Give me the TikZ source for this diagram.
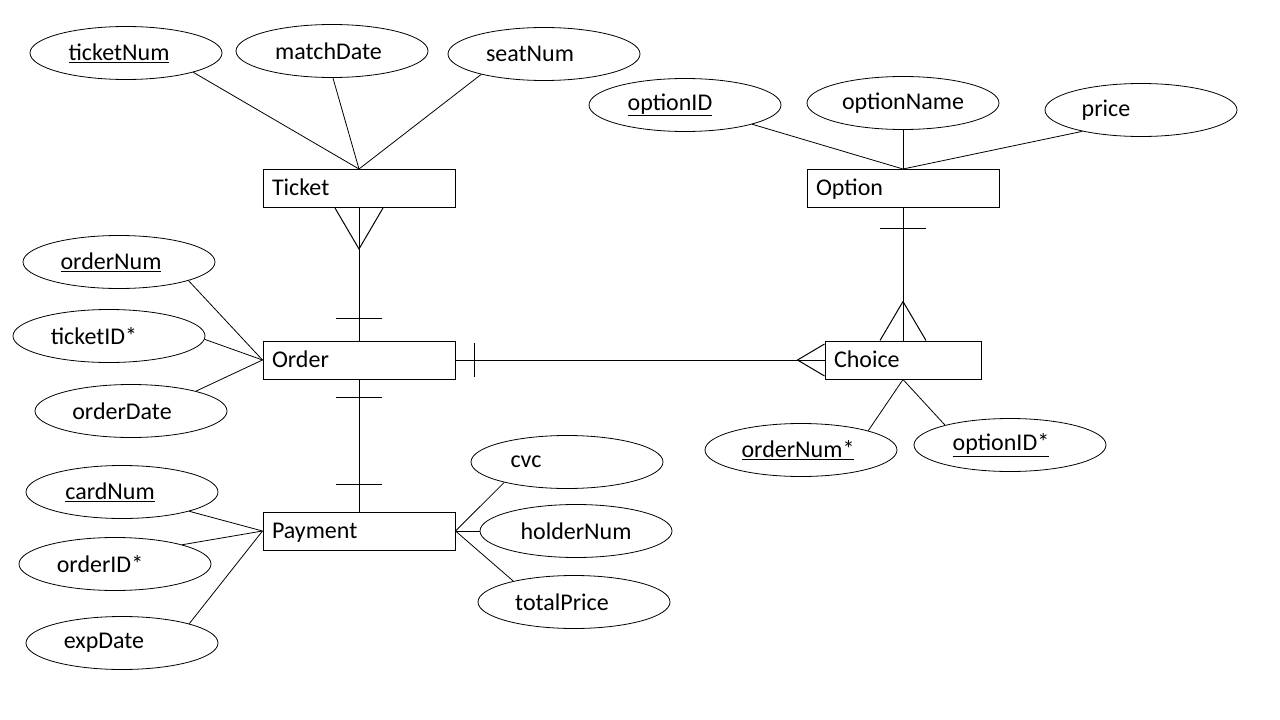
\documentclass[tikz,border=0pt]{standalone}
\usepackage{fontspec}
\setmainfont{Carlito}
\usetikzlibrary{shapes.geometric,calc}
\tikzset{
  entity/.style={draw, line width=1pt, rectangle, minimum height=38pt,
                 text width=174pt, text height=19pt, text depth=5pt,
                 inner xsep=9pt, inner ysep=0pt, align=left},
  attr/.style={draw, line width=0.8pt, ellipse, minimum width=192pt,
               minimum height=53pt, inner sep=0pt},
  link/.style={line width=0.8pt},
  rel/.style={line width=1pt},
}
% shift an attribute's text to the left inside its ellipse
\newcommand{\lft}[2]{#2\hspace*{#1pt}}

\begin{document}
\begin{tikzpicture}[x=1pt, y=-1pt, font=\fontsize{24}{28}\selectfont]
  \useasboundingbox (0,0) rectangle (1280,720);

  % entities
  \node[entity] (ticket)  at (359,188.5) {Ticket};
  \node[entity] (option)  at (903,188.5) {Option};
  \node[entity] (order)   at (359,360)   {Order};
  \node[entity, text width=138pt] (choice) at (903,360) {Choice};
  \node[entity] (payment) at (359,531)   {Payment};

  % attributes, each linked to its entity
  \foreach \nm/\x/\y/\ang/\ent/\txt in {
      tnum/126/53/-16/ticket.north/{\lft{14}{\underline{ticketNum}}},
      mdate/332/51/-88/ticket.north/{\lft{7}{matchDate}},
      seat/544/54/-162/ticket.north/{\lft{28}{seatNum}},
      oid/685/105/-16/option.north/{\lft{30}{\underline{optionID}}},
      oname/903/103/-90/option.north/{optionName},
      price/1141/110/-160/option.north/{\lft{70}{price}},
      onum/119/262/-15/order.west/{\lft{16}{\underline{orderNum}}},
      tid/109/336/-2/order.west/{\lft{30}{ticketID*}},
      odate/131/411/17/order.west/{\lft{18}{orderDate}},
      conum/801/450/16/choice.south/{\lft{6}{\underline{orderNum*}}},
      coid/1010/445/163/choice.south/{\lft{18}{\underline{optionID*}}},
      cvc/567/462/-162/payment.east/{\lft{82}{cvc}},
      hnum/576/531/180/payment.east/{holderNum},
      tprice/574/602/161/payment.east/{\lft{24}{totalPrice}},
      card/122/492/-16/payment.west/{\lft{24}{\underline{cardNum}}},
      ordid/115/564/16/payment.west/{\lft{30}{orderID*}},
      exp/122/643/16/payment.west/{\lft{36}{expDate}}}{
    \node[attr] (\nm) at (\x,\y) {\txt};
    \draw[link] (\nm.\ang) -- (\ent);
  }

  % Ticket -- Order
  \draw[rel] (ticket.south) -- (order.north);
  \draw[rel] ($(ticket.south)+(-24,0)$) -- ($(ticket.south)+(0,41)$)
             -- ($(ticket.south)+(24,0)$);
  \draw[rel] ($(order.north)+(-23,-22)$) -- ++(46,0);

  % Order -- Payment
  \draw[rel] (order.south) -- (payment.north);
  \draw[rel] ($(order.south)+(-23,18)$) -- ++(46,0);
  \draw[rel] ($(payment.north)+(-23,-27)$) -- ++(46,0);

  % Order -- Choice
  \draw[rel] (order.east) -- (choice.west);
  \draw[rel] ($(order.east)+(19,-17)$) -- ++(0,34);
  \draw[rel] ($(choice.west)+(0,-16)$) -- ($(choice.west)+(-27,0)$)
             -- ($(choice.west)+(0,16)$);

  % Option -- Choice
  \draw[rel] (option.south) -- (choice.north);
  \draw[rel] ($(option.south)+(-23,20)$) -- ++(46,0);
  \draw[rel] ($(choice.north)+(-23,0)$) -- ($(choice.north)+(0,-39)$)
             -- ($(choice.north)+(23,0)$);
\end{tikzpicture}
\end{document}
